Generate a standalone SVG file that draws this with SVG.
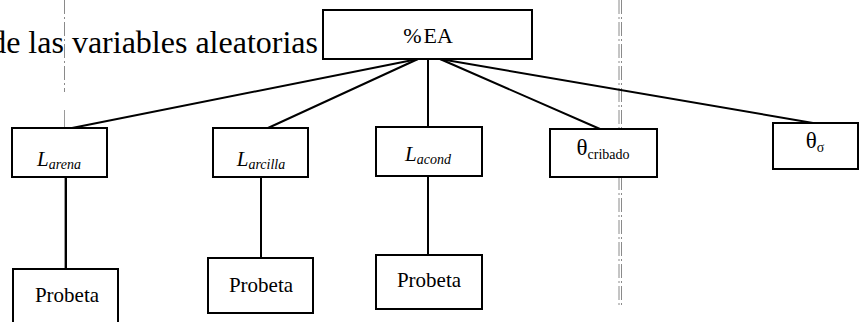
<svg xmlns="http://www.w3.org/2000/svg" width="861" height="322" viewBox="0 0 861 322">
  <style>
    .box { fill: #fff; stroke: #000; stroke-width: 2; }
    .edge { stroke: #000; stroke-width: 2; fill: none; stroke-linecap: round; }
    .guide { stroke: #9a9a9a; stroke-width: 1; fill: none; }
    .guide-dash { stroke: #8a8a8a; stroke-width: 1; fill: none; stroke-dasharray: 14 3 2 3; }
    text, tspan { font-family: "Liberation Serif", "Times New Roman", serif; fill: #000; }
    .lbl { font-size: 21px; }
    .sub { font-size: 14px; }
    .it { font-style: italic; }
  </style>

  <rect width="861" height="322" fill="#fff"/>

  <!-- page guide lines -->
  <g id="guides">
    <line class="guide-dash" x1="64.5" y1="0" x2="64.5" y2="92"/>
    <line class="guide" x1="64.5" y1="110" x2="64.5" y2="322"/>
    <line class="guide-dash" x1="619" y1="0" x2="619" y2="308"/>
    <line class="guide-dash" x1="621.5" y1="0" x2="621.5" y2="308"/>
  </g>

  <text id="caption" x="318" y="53" font-size="32" text-anchor="end">de las variables aleatorias</text>

  <!-- connectors -->
  <g id="connectors">
    <line class="edge" x1="418" y1="59" x2="72" y2="128"/>
    <line class="edge" x1="418" y1="59" x2="268" y2="128"/>
    <line class="edge" x1="428" y1="59" x2="428" y2="127"/>
    <line class="edge" x1="440" y1="59" x2="600" y2="129"/>
    <line class="edge" x1="440" y1="59" x2="813" y2="123"/>
    <line class="edge" x1="66" y1="177" x2="66" y2="269"/>
    <line class="edge" x1="261" y1="177" x2="261" y2="258"/>
    <line class="edge" x1="428" y1="176" x2="428" y2="255"/>
  </g>

  <g id="node-ea">
    <rect class="box" x="323" y="10" width="209" height="49"/>
    <text x="428" y="43" font-size="22" text-anchor="middle">%<tspan dx="2">EA</tspan></text>
  </g>

  <g id="node-larena">
    <rect class="box" x="12" y="128" width="95" height="49"/>
    <text x="59" y="166" class="it" text-anchor="middle"><tspan class="lbl">L</tspan><tspan class="sub" dy="3">arena</tspan></text>
  </g>

  <g id="node-larcilla">
    <rect class="box" x="213" y="128" width="95" height="49"/>
    <text x="261" y="166" class="it" text-anchor="middle"><tspan class="lbl">L</tspan><tspan class="sub" dy="3">arcilla</tspan></text>
  </g>

  <g id="node-lacond">
    <rect class="box" x="376" y="127" width="106" height="49"/>
    <text x="428" y="161" class="it" text-anchor="middle"><tspan class="lbl">L</tspan><tspan class="sub" dy="3">acond</tspan></text>
  </g>

  <g id="node-cribado">
    <rect class="box" x="550" y="129" width="107" height="48"/>
    <text x="603" y="155" text-anchor="middle"><tspan font-size="23">θ</tspan><tspan class="sub" dy="4">cribado</tspan></text>
  </g>

  <g id="node-sigma">
    <rect class="box" x="773" y="123" width="85" height="46"/>
    <text x="815" y="148" text-anchor="middle"><tspan font-size="23">θ</tspan><tspan class="sub" dy="4">σ</tspan></text>
  </g>

  <g id="node-probeta1">
    <rect class="box" x="13" y="269" width="105" height="60"/>
    <text x="67" y="302" class="lbl" text-anchor="middle">Probeta</text>
  </g>

  <g id="node-probeta2">
    <rect class="box" x="208" y="258" width="105" height="55"/>
    <text x="261" y="292" class="lbl" text-anchor="middle">Probeta</text>
  </g>

  <g id="node-probeta3">
    <rect class="box" x="376" y="255" width="106" height="54"/>
    <text x="429" y="287" class="lbl" text-anchor="middle">Probeta</text>
  </g>
</svg>
